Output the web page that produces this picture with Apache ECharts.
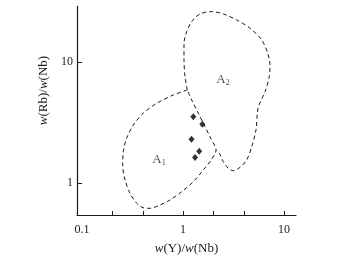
<!DOCTYPE html>
<html>
<head>
<meta charset="utf-8">
<script src="https://cdn.jsdelivr.net/npm/echarts@6/dist/echarts.min.js"></script>
<style>
html,body{margin:0;padding:0;background:#fff;}
#c{width:344px;height:267px;}
</style>
</head>
<body>
<div id="c"></div>
<script>
// Field A1 outline: w(Y)/w(Nb), w(Rb)/w(Nb)
var a1X = [1.103,0.801,0.549,0.404,0.322,0.277,0.256,0.253,0.267,0.299,0.348,0.404,0.471,0.592,0.743,0.971,1.265,1.589,1.851,2.122,1.880,1.651,1.418,1.219,1.103];
var a1Y = [5.89,5.36,4.57,3.78,3.02,2.35,1.82,1.41,1.059,0.822,0.679,0.624,0.617,0.657,0.723,0.847,1.025,1.282,1.501,1.877,2.35,2.93,3.78,4.87,5.89];
// Field A2 outline (shares the lower-left edge with A1)
var a2X = [1.103,1.047,1.023,1.023,1.088,1.219,1.473,1.924,2.506,3.40,4.61,6.02,6.90,7.27,7.15,6.49,5.57,5.44,5.28,4.79,4.27,3.67,3.15,2.81,2.506,2.29,2.122];
var a2Y = [5.89,7.60,10.45,14.37,17.93,21.70,25.13,26.26,25.13,22.41,19.13,15.30,11.87,9.50,7.60,5.71,4.29,3.78,2.75,2.00,1.55,1.349,1.264,1.324,1.50,1.76,1.877];
// Samples
var ptX = [1.265,1.553,1.214,1.447,1.315];
var ptY = [3.54,3.06,2.30,1.83,1.63];
// Field labels
var fieldNames = ['1','2'];
var fieldX = [0.579,2.49];
var fieldY = [1.55,7.13];
// Axis ticks
var xTicks = [0.2,0.4,1,2,4,10];
var xTickLabels = [0.1,1,10];
var yTicks = [1,10];
var yTickLabels = [1,10];

var L = Math.log10;
function pairs(xs, ys){ return xs.map(function(x,i){ return [L(x), L(ys[i])]; }); }
var serif = "'Liberation Serif','Times New Roman',serif";
var ink = '#1a1a1a';
function fmt(v){ var r = Math.pow(10, Math.round(v)); return r < 1 ? r.toFixed(1) : String(r); }

var chart = echarts.init(document.getElementById('c'), null, {renderer:'canvas'});
chart.setOption({
  backgroundColor:'#fff',
  animation:false,
  grid:{left:77,right:48,top:6,bottom:52},
  xAxis:{
    type:'value', min:-1.0495, max:1.1188,
    splitLine:{show:false},
    axisLine:{onZero:false,lineStyle:{color:ink,width:1.2}},
    axisTick:{inside:true,length:4,lineStyle:{color:ink},customValues:xTicks.map(L)},
    axisLabel:{customValues:xTickLabels.map(L),formatter:fmt,margin:9,color:ink,fontFamily:serif,fontSize:12},
    name:'{i|w}(Y)/{i|w}(Nb)', nameLocation:'middle', nameGap:27,
    nameTextStyle:{color:ink,fontFamily:serif,fontSize:13,rich:{i:{fontStyle:'italic',fontFamily:serif,fontSize:13,color:ink}}}
  },
  yAxis:{
    type:'value', min:-0.265, max:1.466,
    splitLine:{show:false},
    axisLine:{onZero:false,lineStyle:{color:ink,width:1.2}},
    axisTick:{inside:true,length:5,lineStyle:{color:ink},customValues:yTicks.map(L)},
    axisLabel:{customValues:yTickLabels.map(L),formatter:fmt,margin:4,color:ink,fontFamily:serif,fontSize:12},
    name:'{i|w}(Rb)/{i|w}(Nb)', nameLocation:'middle', nameGap:26,
    nameTextStyle:{color:ink,fontFamily:serif,fontSize:13,padding:[0,0,0,40],rich:{i:{fontStyle:'italic',fontFamily:serif,fontSize:13,color:ink}}}
  },
  series:[
    {type:'line',data:pairs(a1X,a1Y),symbol:'none',smooth:0.3,lineStyle:{color:ink,width:1,type:[4,3]},silent:true},
    {type:'line',data:pairs(a2X,a2Y),symbol:'none',smooth:0.3,lineStyle:{color:ink,width:1,type:[4,3]},silent:true},
    {type:'scatter',data:pairs(ptX,ptY),symbol:'diamond',symbolSize:[6,7],itemStyle:{color:'#000'}},
    {type:'scatter',symbolSize:0,
     data:fieldNames.map(function(n,i){ return {value:[L(fieldX[i]),L(fieldY[i])],name:n}; }),
     label:{show:true,position:'inside',formatter:function(p){ return '{a|A}{s|'+p.name+'}'; },
       rich:{a:{fontFamily:serif,fontSize:13,color:ink},s:{fontFamily:serif,fontSize:8,color:ink,padding:[5,0,0,0]}}}}
  ]
});
</script>
</body>
</html>
